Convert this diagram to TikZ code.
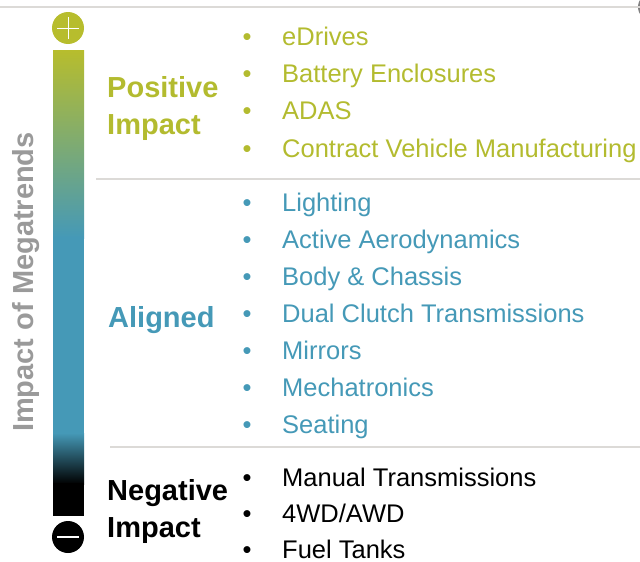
\documentclass[tikz,border=0pt]{standalone}
\usepackage{fontspec}
\setmainfont{Liberation Sans}
\usetikzlibrary{positioning}
\definecolor{posgreen}{HTML}{B3BB2F}
\definecolor{barolive}{HTML}{B7BD2D}
\definecolor{alignblue}{HTML}{4599B7}
\definecolor{rulegray}{HTML}{DCDAD7}
\definecolor{axisgray}{HTML}{9A9A9A}
\tikzset{
  heading/.style={anchor=base west, inner sep=0pt, align=left,
    font=\fontsize{29}{37}\selectfont\bfseries},
  entry/.style={anchor=base west, inner sep=0pt, font=\fontsize{25.5}{30}\selectfont},
  dot/.style={anchor=base, inner sep=0pt, font=\fontsize{25.5}{30}\selectfont},
  sepline/.style={rulegray, line width=2.5pt},
}

\begin{document}
\begin{tikzpicture}[x=1pt, y=-1pt]
			%%%%% FRAME %%%%%
			\useasboundingbox (0, 0) rectangle (640, 562);
			\fill[gray] (652, 7) circle (14);
			\draw[sepline] (0, 7) -- (640, 7);
			\draw[sepline] (96, 179) -- (640, 179);
			\draw[sepline] (110, 447) -- (640, 447);
			
			%%%%% BAR %%%%%
			\shade[top color=barolive, bottom color=alignblue] (53, 50) rectangle (84, 238);
			\fill[alignblue] (53, 237) rectangle (84, 434);
			\shade[top color=alignblue, bottom color=black] (53, 433) rectangle (84, 484);
			\fill[black] (53, 483) rectangle (84, 516);
			
			\fill[barolive] (68, 28) circle (16);
			\draw[white, line width=0.6pt] (57, 28) -- (79, 28) (68, 17) -- (68, 39);
			
			\fill[black] (68, 537) circle (16);
			\draw[white, line width=2.5pt] (57, 537) -- (79, 537);
			
			\node[rotate=90, anchor=base, text=axisgray, inner sep=0pt,
				font=\fontsize{29}{35}\selectfont\bfseries] (axis) at (33, 282) {Impact of Megatrends};
			
			%%%%% HEADINGS %%%%%
			\node[heading, text=posgreen] (positive) at (107, 134) {Positive\\Impact};
			\node[heading, text=alignblue] (aligned) at (108, 327) {Aligned};
			\node[heading, text=black] (negative) at (107, 537) {Negative\\Impact};
			
			%%%%% LISTS %%%%%
			\foreach \txt [count=\i] in {eDrives, Battery Enclosures, ADAS, Contract Vehicle Manufacturing}{
				\node[dot, text=posgreen] (posdot\i) at (247, 45.5+37.2*\i-37.2) {•};
				\node[entry, text=posgreen] (pos\i) at (282, 45.5+37.2*\i-37.2) {\txt};
			}
			
			\foreach \txt [count=\i] in {Lighting, Active Aerodynamics, {Body \& Chassis}, Dual Clutch Transmissions, Mirrors, Mechatronics, Seating}{
				\node[dot, text=alignblue] (aldot\i) at (247, 211+37*\i-37) {•};
				\node[entry, text=alignblue] (al\i) at (282, 211+37*\i-37) {\txt};
			}
			
			\foreach \txt [count=\i] in {Manual Transmissions, 4WD/AWD, Fuel Tanks}{
				\node[dot, text=black] (negdot\i) at (247, 486+36.3*\i-36.3) {•};
				\node[entry, text=black] (neg\i) at (282, 486+36.3*\i-36.3) {\txt};
			}
			
		\end{tikzpicture}
\end{document}
